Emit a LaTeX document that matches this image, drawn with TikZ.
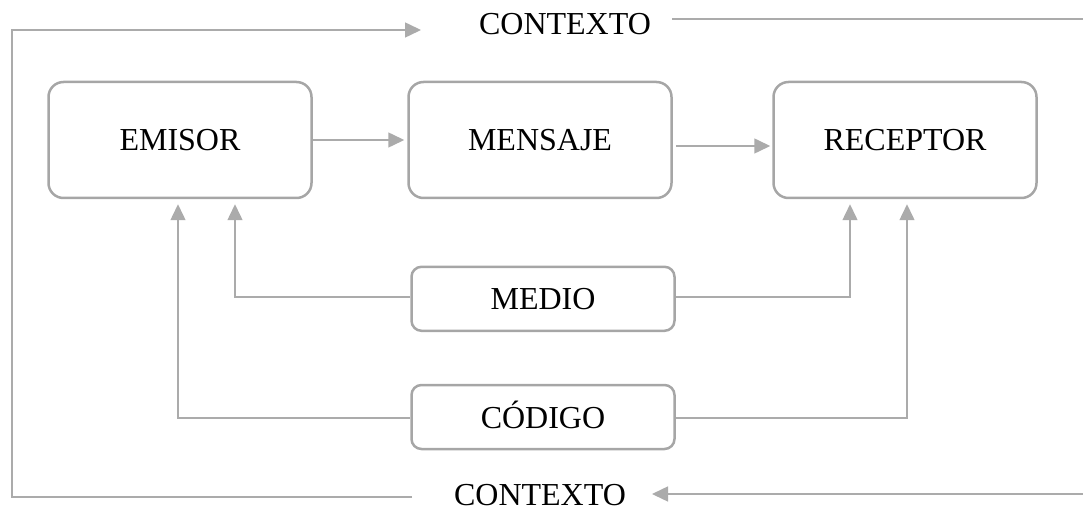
\documentclass[tikz,border=0pt]{standalone}
\usepackage{fontspec}
\setmainfont{Liberation Serif}
\usetikzlibrary{arrows.meta,calc}
\definecolor{boxgray}{HTML}{A6A6A6}
\definecolor{linegray}{HTML}{ABABAB}
\tikzset{
  bigbox/.style={draw=boxgray, line width=2.5pt, rounded corners=15pt, minimum width=263pt, minimum height=116pt, inner sep=0pt, text depth=0pt, text height=22pt, font=\fontsize{32}{38}\selectfont},
  smallbox/.style={draw=boxgray, line width=2.5pt, rounded corners=10pt, minimum width=263pt, minimum height=64pt, inner sep=0pt, text depth=0pt, text height=22pt, font=\fontsize{32}{38}\selectfont},
  lbl/.style={inner sep=0pt, anchor=base, font=\fontsize{32}{38}\selectfont},
  conn/.style={draw=linegray, line width=1.5pt},
  arr/.style={conn, -{Triangle[length=16pt,width=15pt]}, color=linegray},
}
\begin{document}
\begin{tikzpicture}[x=1pt,y=-1pt]
\useasboundingbox (0,0) rectangle (1083,510);
% boxes
\node[bigbox] (emisor) at (180,140) {EMISOR};
\node[bigbox] (mensaje) at (540,140) {MENSAJE};
\node[bigbox] (receptor) at (905,140) {RECEPTOR};
\node[smallbox] (medio) at (543,298.8) {MEDIO};
\node[smallbox] (codigo) at (543,417) {CÓDIGO};
% context labels
\node[lbl] (ctxtop) at (565,35) {CONTEXTO};
\node[lbl] (ctxbot) at (540,505.5) {CONTEXTO};
% coordinates
\coordinate (tl) at (12,30);
\coordinate (bl) at (12,497);
\coordinate (topright) at (1083,19);
\coordinate (botright) at (1083,494);
% main flow
\draw[arr] (emisor.east) -- ($(mensaje.west)+(-3,0)$);
\draw[arr] ($(mensaje.east)+(3,6)$) -- ($(receptor.west)+(-2,6)$);
% medio
\draw[arr] (medio.west |- 0,297) -| ($(emisor.south)+(55,5)$);
\draw[arr] (medio.east |- 0,297) -| ($(receptor.south)+(-55,5)$);
% codigo
\draw[arr] (codigo.west |- 0,418) -| ($(emisor.south)+(-2,5)$);
\draw[arr] (codigo.east |- 0,418) -| ($(receptor.south)+(2,5)$);
% context
\draw[arr] (412,497) -- (bl) -- (tl) -- (421,30);
\draw[conn] (672,19) -- (topright);
\draw[arr] (botright) -- (652,494);
\end{tikzpicture}
\end{document}
